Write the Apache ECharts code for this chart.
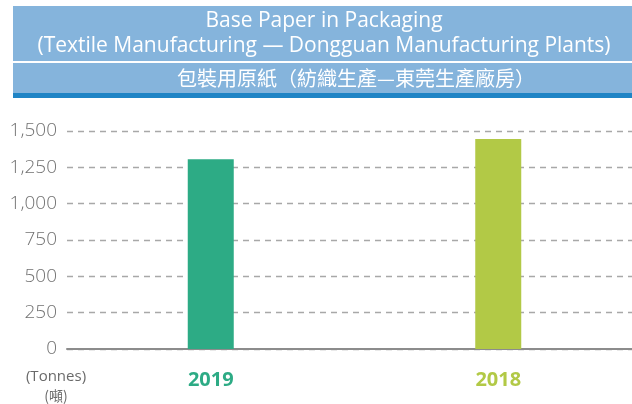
<!DOCTYPE html>
<html><head><meta charset="utf-8">
<script src="https://cdn.jsdelivr.net/npm/echarts@6/dist/echarts.min.js"></script>
<style>html,body{margin:0;padding:0;background:#fff}#c{width:632px;height:404px}</style>
</head><body><div id="c"></div>
<script>
const categories = ['2019', '2018'];
const values = [1305, 1445];
const barColors = ['#2dab85', '#b2c946'];
const yTicks = [0, 250, 500, 750, 1000, 1250, 1500];
const titleLines = ['Base Paper in Packaging', '(Textile Manufacturing \u2014 Dongguan Manufacturing Plants)'];
const titleZh = '包裝用原紙（紡織生產—東莞生產廠房）';
const unitLabels = ['(Tonnes)', '(噸)'];

const FONT = '"Open Sans","Noto Sans",sans-serif';
const CJK = '"Noto Sans CJK TC",sans-serif';
const chart = echarts.init(document.getElementById('c'), null, {renderer: 'canvas'});
chart.setOption({
  animation: false,
  grid: {left: 67, width: 575, top: 131, height: 218, containLabel: false, outerBoundsMode: 'none'},
  xAxis: {
    type: 'category', data: categories,
    axisLine: {lineStyle: {color: '#8c8c8c', width: 2}},
    axisTick: {show: false},
    axisLabel: {
      margin: 21, fontSize: 20, fontWeight: 'bold', fontFamily: FONT,
      color: (v) => barColors[categories.indexOf(v)]
    }
  },
  yAxis: {
    type: 'value', min: 0, max: 1500, interval: 250,
    axisLine: {show: false}, axisTick: {show: false},
    axisLabel: {
      margin: 10, fontSize: 19, fontWeight: 300, color: '#727272', fontFamily: FONT,
      formatter: (v) => yTicks.includes(v) ? v.toLocaleString('en-US') : ''
    },
    splitLine: {lineStyle: {color: '#a8a8a8', type: [6, 5], width: 1.3}}
  },
  series: [{
    type: 'bar', barWidth: 46,
    data: values.map((v, i) => ({value: v, itemStyle: {color: barColors[i]}}))
  }],
  graphic: [
    {type: 'rect', shape: {x: 13, y: 6, width: 619, height: 55}, style: {fill: '#85b4dc'}},
    {type: 'rect', shape: {x: 13, y: 63, width: 619, height: 30}, style: {fill: '#85b4dc'}},
    {type: 'rect', shape: {x: 13, y: 93, width: 619, height: 5}, style: {fill: '#1f84c5'}},
    {type: 'text', x: 324, y: 21, style: {text: titleLines[0], fill: '#fff', fontSize: 21, fontFamily: FONT, align: 'center', verticalAlign: 'middle'}},
    {type: 'text', x: 324, y: 46, style: {text: titleLines[1], fill: '#fff', fontSize: 21, fontFamily: FONT, align: 'center', verticalAlign: 'middle'}},
    {type: 'text', x: 356, y: 78, style: {text: titleZh, fill: '#fff', fontSize: 20, fontFamily: CJK, align: 'center', verticalAlign: 'middle'}},
    {type: 'text', x: 56, y: 377, style: {text: unitLabels[0], fill: '#6a6a6a', fontSize: 15, fontFamily: FONT, align: 'center', verticalAlign: 'middle'}},
    {type: 'text', x: 56, y: 396, style: {text: unitLabels[1], fill: '#6a6a6a', fontSize: 14, fontFamily: CJK, align: 'center', verticalAlign: 'middle'}}
  ]
});
</script></body></html>
